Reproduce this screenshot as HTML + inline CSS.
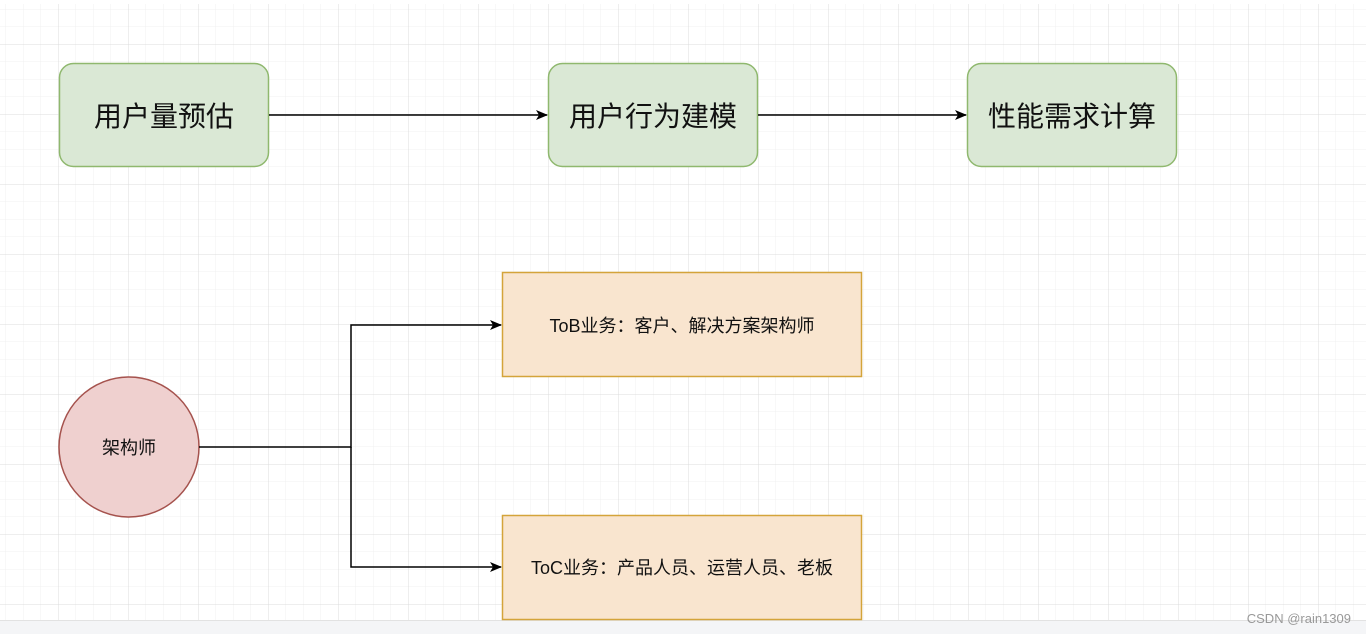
<!DOCTYPE html>
<html><head><meta charset="utf-8"><style>
html,body{margin:0;padding:0;background:#fff;}
body{width:1366px;height:634px;overflow:hidden;position:relative;font-family:"Liberation Sans","Noto Sans CJK SC",sans-serif;}
</style></head><body>
<svg width="1366" height="634" xmlns="http://www.w3.org/2000/svg" style="position:absolute;left:0;top:0">
<defs>
<pattern id="minor" x="58" y="44" width="17.5" height="17.5" patternUnits="userSpaceOnUse">
<path d="M0 0H17.5M0 0V17.5" stroke="#f0f0f0" stroke-width="1" fill="none"/>
</pattern>
<pattern id="major" x="58" y="44" width="70" height="70" patternUnits="userSpaceOnUse">
<path d="M0 0H70M0 0V70" stroke="#dcdcdc" stroke-width="1" fill="none"/>
</pattern>
<marker id="ar" markerWidth="12" markerHeight="10" refX="11" refY="5" orient="auto" markerUnits="userSpaceOnUse">
<path d="M0 0L12 5L0 10L3 5Z" fill="#000"/>
</marker>
</defs>
<rect x="0" y="4" width="1366" height="616" fill="url(#minor)"/>
<rect x="0" y="4" width="1366" height="616" fill="url(#major)"/>
<rect x="0" y="620" width="1366" height="14" fill="#f4f5f7"/>
<line x1="0" y1="620.5" x2="1366" y2="620.5" stroke="#e2e2e2"/>

<rect x="59.5" y="63.5" width="209" height="103" rx="14" fill="#dae8d5" stroke="#8fb86e" stroke-width="1.5"/>
<rect x="548.5" y="63.5" width="209" height="103" rx="14" fill="#dae8d5" stroke="#8fb86e" stroke-width="1.5"/>
<rect x="967.5" y="63.5" width="209" height="103" rx="14" fill="#dae8d5" stroke="#8fb86e" stroke-width="1.5"/>
<text x="164" y="126" font-size="28" text-anchor="middle" font-family="Liberation Sans, Noto Sans CJK SC, sans-serif" fill="#111">用户量预估</text>
<text x="653" y="126" font-size="28" text-anchor="middle" font-family="Liberation Sans, Noto Sans CJK SC, sans-serif" fill="#111">用户行为建模</text>
<text x="1072" y="126" font-size="28" text-anchor="middle" font-family="Liberation Sans, Noto Sans CJK SC, sans-serif" fill="#111">性能需求计算</text>
<line x1="269" y1="115" x2="547" y2="115" stroke="#000" stroke-width="1.5" marker-end="url(#ar)"/>
<line x1="758" y1="115" x2="966" y2="115" stroke="#000" stroke-width="1.5" marker-end="url(#ar)"/>

<rect x="502.5" y="272.5" width="359" height="104" fill="#f9e5cf" stroke="#d4a43a" stroke-width="1.5"/>
<rect x="502.5" y="515.5" width="359" height="104" fill="#f9e5cf" stroke="#d4a43a" stroke-width="1.5"/>
<text x="682" y="332" font-size="18" text-anchor="middle" font-family="Liberation Sans, Noto Sans CJK SC, sans-serif" fill="#111">ToB业务：客户、解决方案架构师</text>
<text x="682" y="574" font-size="18" text-anchor="middle" font-family="Liberation Sans, Noto Sans CJK SC, sans-serif" fill="#111">ToC业务：产品人员、运营人员、老板</text>

<circle cx="129" cy="447" r="70" fill="#efd0cf" stroke="#a5524d" stroke-width="1.5"/>
<text x="129" y="454" font-size="18" text-anchor="middle" font-family="Liberation Sans, Noto Sans CJK SC, sans-serif" fill="#111">架构师</text>

<path d="M199 447H351V325H501" fill="none" stroke="#000" stroke-width="1.5" marker-end="url(#ar)"/>
<path d="M351 447V567H501" fill="none" stroke="#000" stroke-width="1.5" marker-end="url(#ar)"/>

<text x="1351" y="623" font-size="13" text-anchor="end" font-family="Liberation Sans, sans-serif" fill="#999">CSDN @rain1309</text>
</svg>
</body></html>
